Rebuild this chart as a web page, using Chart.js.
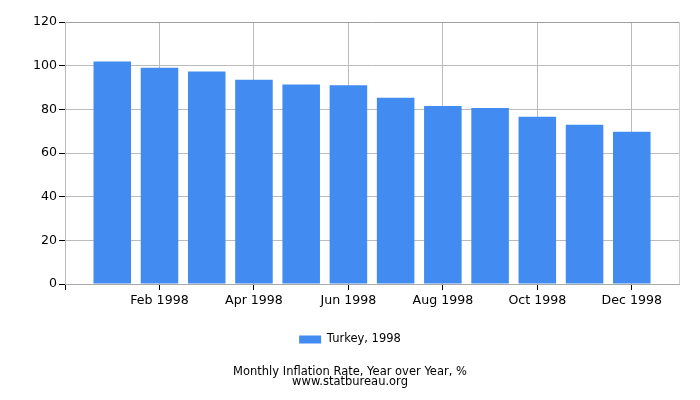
<!DOCTYPE html>
<html>
<head>
<meta charset="utf-8">
<script src="https://cdn.jsdelivr.net/npm/chart.js@4.4.0/dist/chart.umd.min.js"></script>
<style>
html,body{margin:0;padding:0;background:#fff;}
#wrap{width:700px;height:400px;position:relative;}
</style>
</head>
<body>
<div id="wrap"><canvas id="c" width="700" height="400"></canvas></div>
<script>
const categories = ['Jan 1998','Feb 1998','Mar 1998','Apr 1998','May 1998','Jun 1998','Jul 1998','Aug 1998','Sep 1998','Oct 1998','Nov 1998','Dec 1998'];
const inflation = [101.9, 99.1, 97.3, 93.6, 91.4, 91.0, 85.3, 81.5, 80.6, 76.6, 72.9, 69.7];
const seriesLabel = 'Turkey, 1998';
const titleLines = ['Monthly Inflation Rate, Year over Year, %', 'www.statbureau.org'];
const yTicks = [0, 20, 40, 60, 80, 100, 120];

const FONT = "'DejaVu Sans', sans-serif";

// The axis has one empty slot before the first and after the last month.
const axisLabels = [''].concat(categories, ['']);
const axisData = [null].concat(inflation, [null]);
const lastIdx = axisLabels.length - 1;
const isShownTick = (i) => i >= 2 && i <= lastIdx - 1 && i % 2 === 0;

new Chart(document.getElementById('c'), {
  type: 'bar',
  data: {
    labels: axisLabels,
    datasets: [{
      label: seriesLabel,
      data: axisData,
      backgroundColor: '#428bf0',
      borderWidth: 0,
      categoryPercentage: 0.795,
      barPercentage: 1.0
    }]
  },
  options: {
    responsive: false,
    animation: false,
    devicePixelRatio: 1,
    layout: { padding: { top: 22, right: 21, left: 21, bottom: 13 } },
    scales: {
      x: {
        offset: false,
        grid: {
          offset: false,
          color: (ctx) => {
            const i = ctx.index;
            if (i === lastIdx) return '#cccccc';
            if (i === 0 || isShownTick(i)) return '#bbbbbb';
            return 'rgba(0,0,0,0)';
          },
          tickColor: (ctx) => {
            const i = ctx.index;
            return (i === 0 || isShownTick(i)) ? '#000000' : 'rgba(0,0,0,0)';
          },
          tickLength: 6
        },
        border: { color: '#aaaaaa' },
        ticks: {
          autoSkip: false,
          maxRotation: 0,
          color: '#000',
          font: { family: FONT, size: 12.6 },
          padding: 3,
          callback: function (v, i) { return isShownTick(i) ? axisLabels[i] : ''; }
        }
      },
      y: {
        min: yTicks[0],
        max: yTicks[yTicks.length - 1],
        afterBuildTicks: (axis) => { axis.ticks = yTicks.map(v => ({ value: v })); },
        afterFit: (axis) => { axis.width += 10; },
        grid: {
          color: (ctx) => (ctx.tick && ctx.tick.value === yTicks[yTicks.length - 1] ? '#a0a0a0' : '#bbbbbb'),
          tickColor: '#000000',
          tickLength: 6
        },
        border: { color: '#bbbbbb' },
        ticks: {
          color: '#000',
          font: { family: FONT, size: 12.6 },
          padding: 2
        }
      }
    },
    plugins: {
      legend: {
        position: 'bottom',
        labels: {
          boxWidth: 22,
          boxHeight: 8,
          color: '#000',
          font: { family: FONT, size: 11.5 },
          padding: 22.5
        }
      },
      title: {
        display: true,
        position: 'bottom',
        text: titleLines,
        color: '#000',
        font: { family: FONT, size: 11.5, weight: 'normal', lineHeight: 0.84 },
        padding: { top: 12.5, bottom: 0 }
      },
      tooltip: { enabled: false }
    }
  }
});
</script>
</body>
</html>
